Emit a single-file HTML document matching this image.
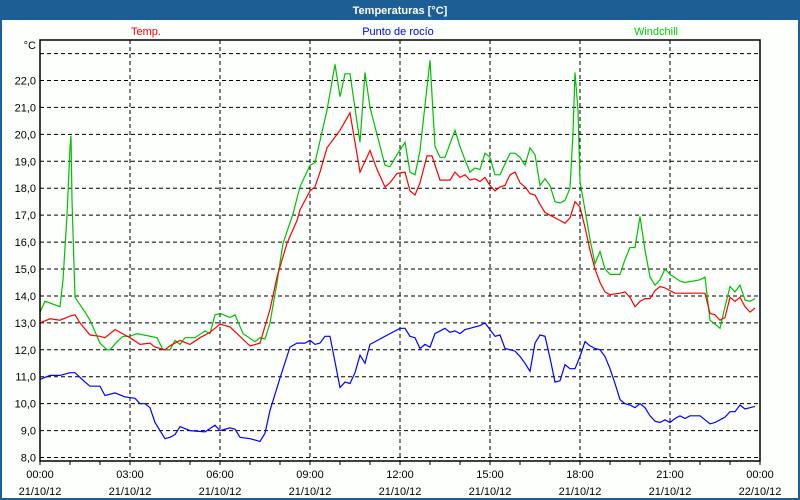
<!DOCTYPE html>
<html><head><meta charset="utf-8"><style>
html,body{margin:0;padding:0;background:#fff}
svg{display:block}
text{font-family:"Liberation Sans",sans-serif;font-size:11px}
</style></head><body>
<svg id="chart" width="800" height="500" viewBox="0 0 800 500">
<rect x="0" y="0" width="800" height="500" fill="#1d5f95"/>
<rect x="2" y="20" width="796" height="478" fill="#fcfffc"/>
<text x="400" y="14" text-anchor="middle" fill="#fff" font-weight="bold">Temperaturas [°C]</text>
<text x="146" y="35" text-anchor="middle" fill="#ff0000">Temp.</text>
<text x="398" y="35" text-anchor="middle" fill="#0000ff">Punto de rocío</text>
<text x="656" y="35" text-anchor="middle" fill="#00cc00">Windchill</text>
<text x="36" y="49" text-anchor="end" fill="#000">°C</text>
<g id="grid"></g><g id="series"></g><g id="axes"></g>
</svg>
<script>
const yTicks=[8,9,10,11,12,13,14,15,16,17,18,19,20,21,22];
const xTickMinutes=[0,180,360,540,720,900,1080,1260,1440];
const xTickTimes=["00:00","03:00","06:00","09:00","12:00","15:00","18:00","21:00","00:00"];
const xTickDates=["21/10/12","21/10/12","21/10/12","21/10/12","21/10/12","21/10/12","21/10/12","21/10/12","22/10/12"];
const tempMin=[0,20,40,60,70,80,100,120,130,150,170,180,200,220,230,250,260,280,300,320,340,360,380,420,440,460,474,494,514,520,540,550,560,574,600,620,640,660,674,690,700,714,730,740,750,760,774,784,800,820,830,840,850,860,870,880,890,900,910,920,930,940,950,960,970,980,990,1000,1010,1020,1040,1050,1060,1070,1080,1090,1100,1110,1120,1130,1140,1160,1170,1180,1190,1200,1210,1220,1230,1240,1250,1260,1270,1330,1340,1350,1360,1370,1380,1390,1400,1410,1420,1430];
const tempVal=[13.0,13.15,13.1,13.25,13.3,13.0,12.55,12.5,12.45,12.75,12.55,12.45,12.2,12.25,12.1,12.0,12.15,12.35,12.2,12.45,12.65,12.95,12.85,12.14,12.25,13.5,14.7,15.96,16.8,17.2,17.9,18.05,18.6,19.5,20.15,20.8,18.6,19.4,18.7,18.05,18.2,18.55,18.6,17.9,17.75,18.2,19.2,19.2,18.3,18.3,18.6,18.4,18.5,18.3,18.35,18.25,18.4,18.1,17.9,18.05,18.1,18.5,18.6,18.2,18.05,17.8,17.75,17.4,17.1,17.0,16.8,16.7,16.9,17.5,17.3,16.55,15.7,15.0,14.5,14.15,14.05,14.1,14.15,13.95,13.6,13.8,13.9,13.9,14.2,14.35,14.3,14.2,14.1,14.1,13.35,13.3,13.1,13.2,13.95,13.8,13.95,13.6,13.4,13.55];
const dewMin=[0,20,40,60,70,90,100,120,130,150,170,190,200,210,220,230,240,250,260,270,280,300,330,350,360,380,390,400,420,440,450,460,480,500,514,530,540,550,560,570,580,600,610,620,630,640,650,660,680,700,720,730,740,750,760,770,780,790,810,820,830,840,850,860,880,890,900,910,920,930,940,950,960,970,980,990,1000,1010,1020,1030,1040,1050,1060,1070,1080,1090,1100,1110,1120,1130,1140,1150,1160,1170,1180,1190,1200,1210,1220,1230,1240,1250,1260,1270,1280,1290,1300,1320,1330,1340,1350,1360,1370,1380,1390,1400,1410,1420,1430];
const dewVal=[10.9,11.05,11.05,11.15,11.15,10.8,10.65,10.65,10.3,10.4,10.25,10.2,10.0,10.0,9.85,9.3,9.0,8.7,8.75,8.85,9.15,9.0,8.95,9.2,9.0,9.1,9.05,8.75,8.7,8.6,8.9,9.75,10.95,12.1,12.25,12.25,12.35,12.2,12.25,12.5,12.5,10.6,10.8,10.75,11.15,11.8,11.5,12.2,12.4,12.6,12.8,12.8,12.5,12.45,12.05,12.2,12.1,12.6,12.8,12.65,12.7,12.6,12.75,12.8,12.9,13.0,12.75,12.5,12.55,12.05,12.0,11.95,11.75,11.5,11.2,12.25,12.55,12.5,11.7,10.8,10.85,11.45,11.3,11.3,11.75,12.3,12.15,12.05,12.0,11.75,11.3,10.75,10.15,10.0,9.95,9.85,10.0,9.85,9.55,9.35,9.3,9.4,9.3,9.45,9.55,9.45,9.55,9.55,9.4,9.25,9.3,9.4,9.5,9.7,9.7,9.95,9.8,9.85,9.9];
const windMin=[0,10,40,46,54,60,62,64,70,90,100,120,134,140,154,166,180,194,234,246,260,270,280,290,310,330,340,350,360,380,390,406,430,440,450,460,474,486,506,520,540,550,574,590,600,610,620,640,650,660,690,700,714,730,740,750,760,780,790,800,810,830,840,850,860,870,880,890,900,910,920,940,950,960,970,980,990,1000,1010,1020,1030,1040,1050,1060,1066,1070,1076,1080,1090,1100,1110,1120,1130,1140,1160,1170,1180,1190,1200,1210,1220,1230,1240,1250,1260,1280,1290,1320,1330,1340,1350,1360,1370,1380,1390,1400,1410,1420,1430];
const windVal=[13.4,13.8,13.6,14.6,17.0,19.5,19.95,17.55,13.95,13.4,13.1,12.25,12.0,12.0,12.3,12.5,12.5,12.6,12.45,12.0,12.0,12.35,12.2,12.45,12.45,12.7,12.6,13.3,13.35,13.2,13.3,12.6,12.3,12.45,12.4,13.0,14.5,15.95,17.05,18.05,18.85,18.95,20.9,22.6,21.4,22.25,22.25,19.7,22.3,21.0,18.85,18.8,19.25,19.7,18.6,18.5,19.4,22.75,19.55,19.15,19.15,20.15,19.55,19.05,18.6,18.75,18.7,19.3,19.15,18.5,18.5,19.3,19.3,19.15,18.85,19.5,19.25,18.1,18.35,18.1,17.5,17.45,17.55,18.0,20.05,22.3,20.9,18.25,17.2,16.1,15.2,15.65,15.0,14.8,14.8,15.35,15.8,15.8,16.95,15.7,14.7,14.4,14.6,15.0,14.8,14.55,14.5,14.6,14.7,13.1,12.95,12.8,13.6,14.35,14.15,14.4,13.85,13.8,13.9];

const L=40,R=760,T=40,B=461;
const xs=m=>L+(m/1440)*(R-L);
const ys=v=>80.5+(22-v)*26.93;
const NS="http://www.w3.org/2000/svg";
function mk(tag,attrs,parent){const e=document.createElementNS(NS,tag);for(const k in attrs)e.setAttribute(k,attrs[k]);parent.appendChild(e);return e;}
const grid=document.getElementById('grid'),axes=document.getElementById('axes'),series=document.getElementById('series');
// horizontal grid incl. 23
const gridVals=yTicks.concat([23]);
gridVals.forEach(v=>{
  const l=mk('line',{x1:L,x2:R,y1:ys(v),y2:ys(v),stroke:'#000','stroke-dasharray':'4,3','stroke-width':1},grid);
  
  
});
yTicks.forEach(v=>{
  const t=mk('text',{x:36,y:ys(v)+4,'text-anchor':'end',fill:'#000'},axes);
  t.textContent=v.toFixed(1).replace('.',',');
  
  
});
xTickMinutes.forEach((m,i)=>{
  if(i>0&&i<xTickMinutes.length-1){
    const l=mk('line',{x1:xs(m),x2:xs(m),y1:T,y2:B,stroke:'#000','stroke-dasharray':'4,3','stroke-width':1},grid);
    
    
  }
  const t1=mk('text',{x:xs(m),y:478,'text-anchor':'middle',fill:'#000'},axes);
  t1.textContent=xTickTimes[i];
  
  
  const t2=mk('text',{x:xs(m),y:495,'text-anchor':'middle',fill:'#000'},axes);
  t2.textContent=xTickDates[i];
  
  
});
for(let h=0;h<=24;h++){
  const tk=mk('line',{x1:xs(h*60),x2:xs(h*60),y1:B,y2:B+4,stroke:'#000'},axes);
  
  
}
const fr=mk('rect',{x:L,y:T,width:R-L,height:B-T,fill:'none',stroke:'#000','stroke-width':1.5},axes);


function draw(mins,vals,color,name){
  const n=Math.min(mins.length,vals.length);
  let d='';
  for(let i=0;i<n;i++)d+=(i?'L':'M')+xs(mins[i]).toFixed(1)+','+ys(vals[i]).toFixed(1);
  const p=mk('path',{d:d,fill:'none',stroke:color,'stroke-width':1.2},series);
  
  
}
draw(dewMin,dewVal,'#0000ff','dew-point-line');
draw(windMin,windVal,'#00c000','windchill-line');
draw(tempMin,tempVal,'#ff0000','temp-line');
</script>
</body></html>
